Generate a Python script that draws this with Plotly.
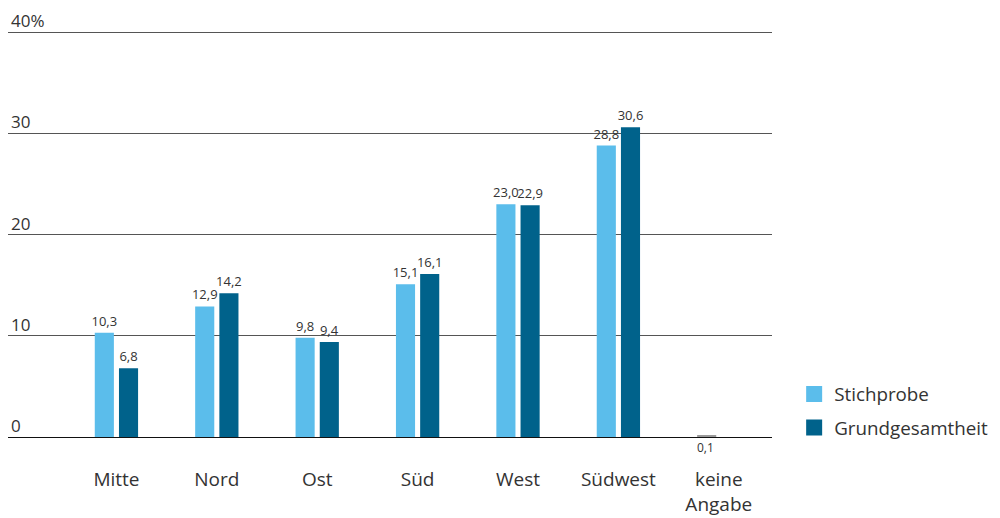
import plotly.graph_objects as go

categories = ["Mitte", "Nord", "Ost", "Süd", "West", "Südwest", "keine<br>Angabe"]
stichprobe = [10.3, 12.9, 9.8, 15.1, 23.0, 28.8, 0.1]
grundgesamtheit = [6.8, 14.2, 9.4, 16.1, 22.9, 30.6, None]
y_ticks = [0, 10, 20, 30, 40]
y_ticktext = ["0", "10", "20", "30", "40%"]

LIGHT = "#5bbdeb"
DARK = "#00628b"
GREY = "#9a9a9a"
FONT = "Open Sans"
TXT = "#333333"


def fmt(v):
    return "" if v is None else f"{v:.1f}".replace(".", ",")


s_colors = [LIGHT] * (len(categories) - 1) + [GREY]
s_text = [fmt(v) for v in stichprobe[:-1]] + [""]

fig = go.Figure()
fig.add_trace(go.Bar(
    x=categories, y=stichprobe, name="Stichprobe",
    marker=dict(color=s_colors, line=dict(width=0)),
    text=s_text, textposition="outside", cliponaxis=False, constraintext="none",
    textfont=dict(family=FONT, size=13, color=TXT), showlegend=False,
))
fig.add_trace(go.Bar(
    x=categories, y=grundgesamtheit, name="Grundgesamtheit",
    marker=dict(color=DARK, line=dict(width=0)),
    text=[fmt(v) for v in grundgesamtheit], textposition="outside", cliponaxis=False,
    constraintext="none",
    textfont=dict(family=FONT, size=13, color=TXT), showlegend=False,
))
# legend entries
for nm, col in [("Stichprobe", LIGHT), ("Grundgesamtheit", DARK)]:
    fig.add_trace(go.Scatter(
        x=[None], y=[None], mode="markers", name=nm, legendgroup=nm,
        marker=dict(symbol="square", size=20, color=col),
    ))

# y tick labels sitting on top of the grid lines
for v, t in zip(y_ticks, y_ticktext):
    fig.add_annotation(
        x=0, xref="paper", y=v, yref="y", text=t, showarrow=False,
        xanchor="left", yanchor="bottom", xshift=1, yshift=-2,
        font=dict(family=FONT, size=17, color=TXT),
    )

# label for the tiny "keine Angabe" bar, placed below the baseline
fig.add_annotation(
    x=categories[-1], y=0, text=fmt(stichprobe[-1]), showarrow=False,
    yanchor="top", xshift=-13, yshift=0,
    font=dict(family=FONT, size=12, color=TXT),
)

fig.update_layout(
    width=992, height=510,
    margin=dict(l=0, r=228, t=4, b=81, autoexpand=False),
    paper_bgcolor="white", plot_bgcolor="white",
    barmode="group", bargap=0.518, bargroupgap=0.21,
    font=dict(family=FONT, color=TXT),
    legend=dict(
        x=1.029, y=0.145, xanchor="left", yanchor="top",
        font=dict(family=FONT, size=18.8, color=TXT),
        itemsizing="trace", tracegroupgap=6,
    ),
    xaxis=dict(
        range=[-1.08, 6.53], showgrid=False, showline=False, zeroline=False,
        tickfont=dict(family=FONT, size=19, color=TXT), ticks="",
        ticklabelstandoff=29, automargin=False,
    ),
    yaxis=dict(
        range=[0, 42], tickvals=y_ticks, showticklabels=False,
        showgrid=True, gridcolor="#555555", gridwidth=1,
        zeroline=True, zerolinecolor="#111111", zerolinewidth=1,
        showline=False, ticks="", automargin=False,
    ),
)

fig.write_html("out.html")
